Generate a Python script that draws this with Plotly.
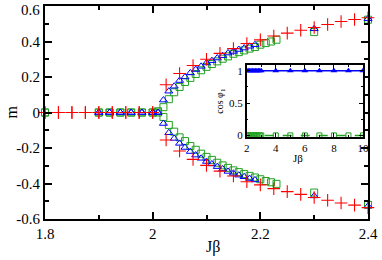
import plotly.graph_objects as go

# ---- data: main panel ----
red_x = [1.8, 1.825, 1.85, 1.875, 1.9, 1.925, 1.95, 1.975, 2.0,
         2.025, 2.05, 2.075, 2.1, 2.125, 2.15, 2.175, 2.2, 2.225, 2.25,
         2.275, 2.3, 2.325, 2.35, 2.375, 2.4]
red_up = [0, 0, 0, 0, 0, 0, 0, 0, 0,
          0.156, 0.22, 0.265, 0.30, 0.333, 0.36, 0.389, 0.409, 0.431, 0.447,
          0.463, 0.479, 0.496, 0.513, 0.524, 0.534]
red_dn = [0, 0, 0, 0, 0, 0, 0, 0, 0,
          -0.155, -0.217, -0.264, -0.298, -0.33, -0.358, -0.39, -0.408, -0.429, -0.446,
          -0.461, -0.479, -0.494, -0.51, -0.522, -0.536]

blue_x = [1.9, 1.92, 1.94, 1.96, 1.98, 2.0, 2.01,
          2.02, 2.03, 2.04, 2.05, 2.06, 2.07, 2.08, 2.09, 2.1, 2.11, 2.12,
          2.13, 2.14, 2.15, 2.16, 2.17, 2.18, 2.19, 2.3, 2.4]
blue_up = [0, 0, 0, 0, 0, 0, 0,
           0.07, 0.12, 0.148, 0.18, 0.2, 0.223, 0.242, 0.26, 0.279, 0.292, 0.307,
           0.32, 0.335, 0.344, 0.355, 0.363, 0.373, 0.382, 0.472, 0.528]
blue_dn = [0, 0, 0, 0, 0, 0, 0,
           -0.062, -0.114, -0.146, -0.174, -0.197, -0.22, -0.24, -0.258, -0.276, -0.29, -0.305,
           -0.318, -0.332, -0.343, -0.353, -0.362, -0.372, -0.38, -0.47, -0.527]

green_x = [1.8, 1.9, 1.92, 1.94, 1.96, 1.98, 2.0, 2.01,
           2.02, 2.03, 2.04, 2.05, 2.06, 2.07, 2.08, 2.09, 2.1, 2.11, 2.12,
           2.13, 2.14, 2.15, 2.16, 2.17, 2.18, 2.19, 2.2, 2.21, 2.22, 2.23, 2.3, 2.4]
green_up = [0, 0, 0, 0, 0, 0, 0, 0.007,
            0.03, 0.075, 0.114, 0.144, 0.172, 0.195, 0.217, 0.238, 0.257, 0.273, 0.288,
            0.303, 0.316, 0.331, 0.340, 0.350, 0.36, 0.369, 0.382, 0.391, 0.40, 0.41, 0.453, 0.523]
green_dn = [0, 0, 0, 0, 0, 0, 0, 0,
            -0.025, -0.07, -0.108, -0.14, -0.161, -0.189, -0.21, -0.232, -0.25, -0.267, -0.283,
            -0.298, -0.312, -0.326, -0.336, -0.347, -0.357, -0.366, -0.376, -0.386, -0.393, -0.402, -0.451, -0.52]

# ---- data: inset ----
ins_blue_x = [2.0, 2.1, 2.2, 2.3, 2.4, 2.5, 2.6, 2.7, 2.8, 2.9, 3.0, 4, 5, 6, 7, 8, 9, 10]
ins_blue_y = [1.0] * len(ins_blue_x)
ins_green_x = [2.0, 2.1, 2.2, 2.3, 2.4, 2.5, 2.6, 2.7, 2.8, 2.9, 3.0, 4, 5, 6, 7, 8, 9, 10]
ins_green_y = [0.0] * len(ins_green_x)

# tick labels
y_tickvals = [-0.6, -0.4, -0.2, 0, 0.2, 0.4, 0.6]
y_ticktext = ["-0.6", "-0.4", "-0.2", "0", "0.2", "0.4", "0.6"]

RED = "#ff0000"
BLUE = "#0000ff"
GREEN = "#22a022"
FONT = "'Liberation Serif', 'DejaVu Serif', 'Times New Roman', serif"

fig = go.Figure()

def add_branch(x, y, sym, color, size, lw):
    fig.add_trace(go.Scatter(x=x, y=y, mode="markers", showlegend=False, cliponaxis=False,
                             marker=dict(symbol=sym, size=size, color=color,
                                         line=dict(color=color, width=lw))))

add_branch(green_x, green_up, "square-open", GREEN, 7, 1)
add_branch(green_x, green_dn, "square-open", GREEN, 7, 1)
add_branch(blue_x, blue_up, "triangle-up-open", BLUE, 7, 1)
add_branch(blue_x, blue_dn, "triangle-up-open", BLUE, 7, 1)
add_branch(red_x, red_up, "cross-thin-open", RED, 9, 1.1)
add_branch(red_x, red_dn, "cross-thin-open", RED, 9, 1.1)

# inset traces
fig.add_trace(go.Scatter(x=ins_green_x, y=ins_green_y, mode="lines+markers", showlegend=False,
                         xaxis="x2", yaxis="y2",
                         line=dict(color=GREEN, width=1.5, dash="dash"),
                         marker=dict(symbol="square-open", size=5, color=GREEN,
                                     line=dict(color=GREEN, width=1))))
fig.add_trace(go.Scatter(x=ins_blue_x, y=ins_blue_y, mode="lines+markers", showlegend=False,
                         xaxis="x2", yaxis="y2",
                         line=dict(color=BLUE, width=1.5),
                         marker=dict(symbol="triangle-up", size=6, color=BLUE)))

axis_common = dict(showline=True, linecolor="black", mirror="allticks", ticks="inside",
                   showgrid=False, zeroline=False, tickcolor="black", automargin=False,
                   ticklabeloverflow="allow")

fig.update_layout(
    width=382, height=260,
    margin=dict(l=45, r=14, t=6, b=41),
    plot_bgcolor="white", paper_bgcolor="white",
    font=dict(family=FONT, color="black"),
    xaxis=dict(range=[1.8, 2.4], tickvals=[1.8, 2.0, 2.2, 2.4], ticktext=["1.8", "2", "2.2", "2.4"],
               linewidth=2, tickwidth=2, ticklen=7,
               minor=dict(dtick=0.1, tick0=1.8, ticks="inside", ticklen=4, tickwidth=1.5, tickcolor="black"),
               tickfont=dict(size=15, family=FONT),
               **axis_common),
    yaxis=dict(range=[-0.6, 0.6], tickvals=y_tickvals,
               ticktext=y_ticktext[:-1] + [""],
               linewidth=2, tickwidth=2, ticklen=7,
               minor=dict(dtick=0.1, tick0=0, ticks="inside", ticklen=4, tickwidth=1.5, tickcolor="black"),
               tickfont=dict(size=15, family=FONT),
               **axis_common),
    xaxis2=dict(domain=[0.6245, 0.9845], anchor="y2", range=[2, 10],
                tickvals=[2, 4, 6, 8, 10], linewidth=1.5, tickwidth=1, ticklen=4,
                minor=dict(dtick=1, ticks="inside", ticklen=2, tickcolor="black"),
                tickfont=dict(size=11, family=FONT),
                **axis_common),
    yaxis2=dict(domain=[0.385, 0.723], anchor="x2", range=[-0.025, 1.09],
                tickvals=[0, 0.5, 1], ticktext=["0", "0.5", "1"], linewidth=1.5, tickwidth=1, ticklen=4,
                minor=dict(dtick=0.25, ticks="inside", ticklen=2, tickcolor="black"),
                tickfont=dict(size=11, family=FONT),
                **axis_common),
    annotations=[
        dict(text=y_ticktext[-1], xref="paper", yref="y", x=0, xshift=-3, y=y_tickvals[-1], yshift=-4,
             xanchor="right", yanchor="middle", showarrow=False, font=dict(size=15, family=FONT)),
        dict(text="Jβ", xref="paper", yref="paper", x=0.52, y=0, yshift=-17, yanchor="top",
             showarrow=False, font=dict(size=16, family=FONT)),
        dict(text="m", xref="paper", yref="paper", x=0, xshift=-34, y=0.5, xanchor="center",
             textangle=-90, showarrow=False, font=dict(size=16, family=FONT)),
        dict(text="Jβ", xref="paper", yref="paper", x=0.8045, y=0.385, yshift=-13, yanchor="top",
             showarrow=False, font=dict(size=11, family=FONT)),
        dict(text="cos φ<sub>1</sub>", xref="paper", yref="paper", x=0.6245, xshift=-26, y=0.554,
             xanchor="center", textangle=-90, showarrow=False, font=dict(size=10, family=FONT)),
    ],
)

fig.write_html("out.html", config={"displayModeBar": False},
               post_script="document.body.style.margin='0';document.body.style.padding='0';")
